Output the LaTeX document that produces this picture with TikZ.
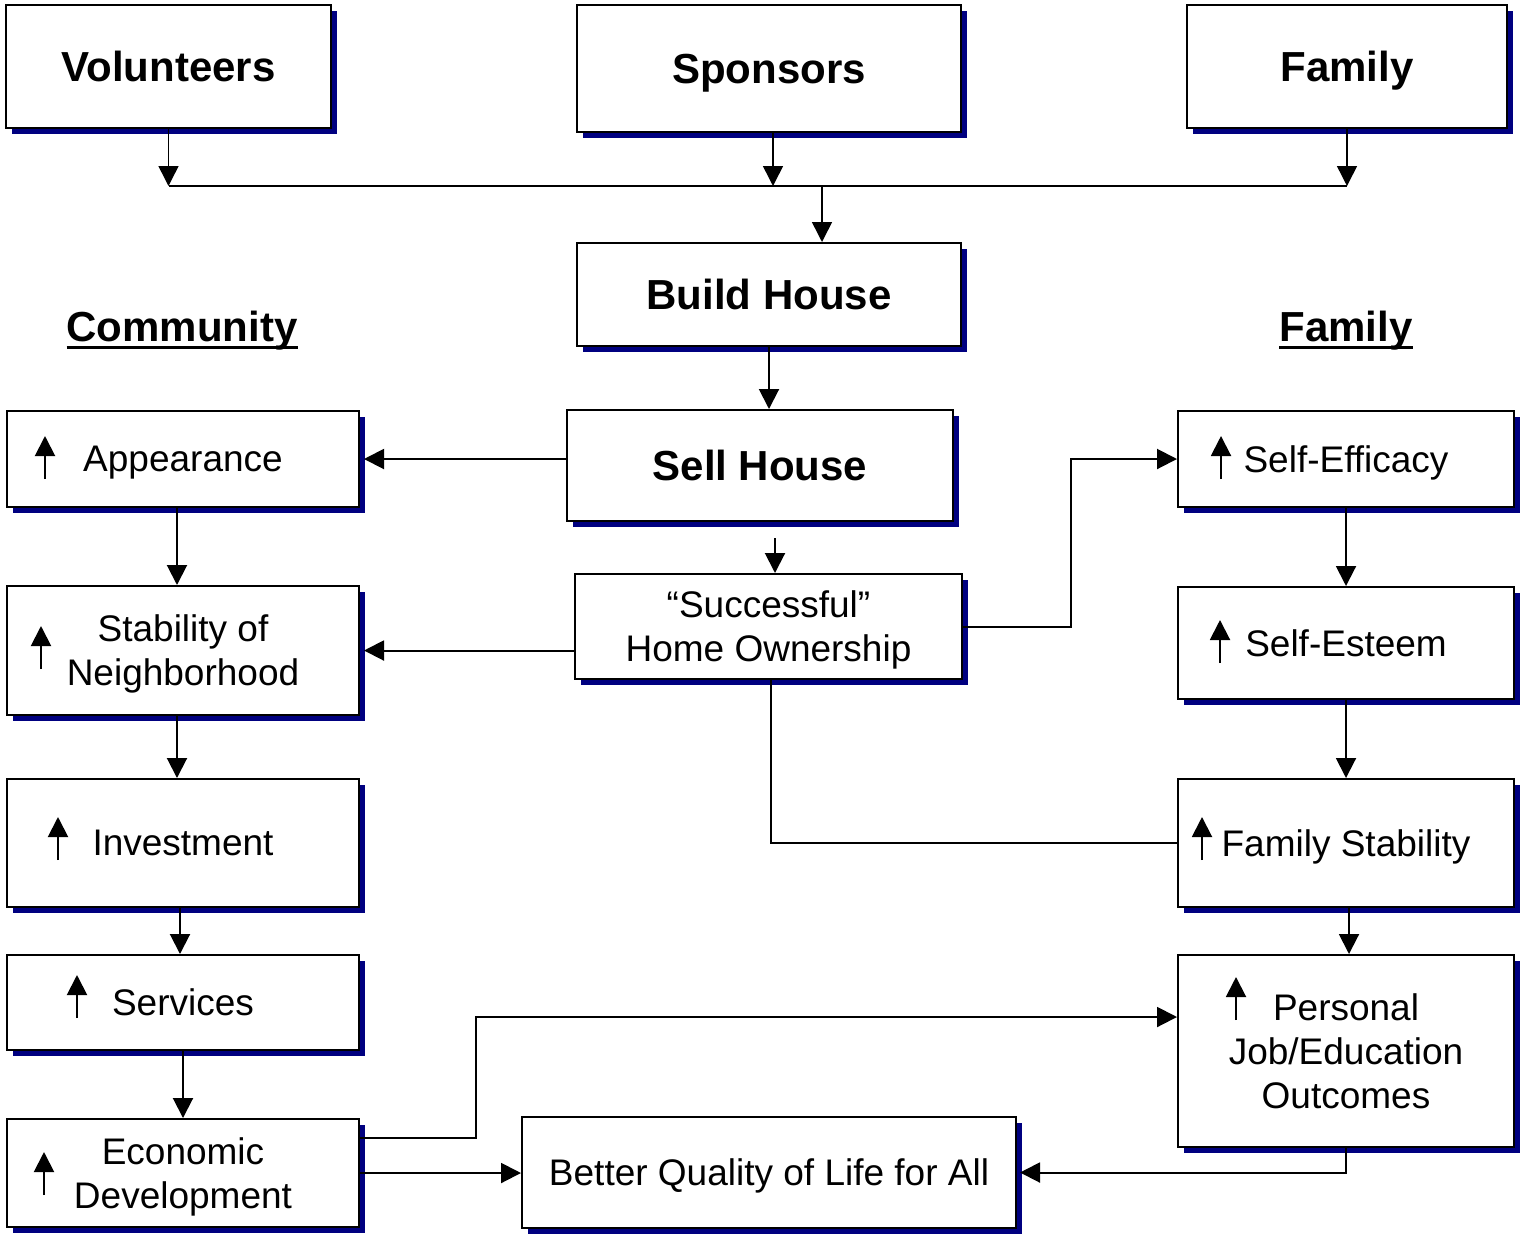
\documentclass[tikz,border=0pt]{standalone}
\usepackage{fontspec}
\setmainfont{Liberation Sans}
\usepackage{tikz}
\usetikzlibrary{arrows.meta,shadows}

\definecolor{shadownavy}{RGB}{0,0,128}
\newcommand\ulined[1]{\setbox0\hbox{#1}\rlap{\rule[-8pt]{\wd0}{3pt}}\box0}

\tikzset{
	box/.style={draw=black,line width=2pt,fill=white,inner sep=0pt,align=center,text depth=0pt,
		font=\fontsize{37}{44}\selectfont,
		drop shadow={shadow xshift=6pt,shadow yshift=-6pt,fill=shadownavy,opacity=1}},
	bigbox/.style={box,font=\fontsize{42}{48}\selectfont\bfseries},
	dims/.style 2 args={minimum width=#1pt,minimum height=#2pt},
	conn/.style={-{Triangle[width=20pt,length=20pt]},line width=2pt},
	thinconn/.style={conn,line width=1.5pt},
	upmark/.style={-{Triangle[width=20pt,length=20pt]},line width=2pt}
}

\begin{document}
\begin{tikzpicture}[x=1pt,y=-1pt]
		\useasboundingbox (0,0) rectangle (1520,1235);
		% top row
		\node[bigbox,dims={325}{123}] (vol)    at (168.5,66.5) {Volunteers};
		\node[bigbox,dims={384}{127}] (spon)   at (769,68.5)   {Sponsors};
		\node[bigbox,dims={320}{123}] (famtop) at (1347,66.5)  {Family};
		% centre
		\node[bigbox,dims={384}{103}] (build)  at (769,294.5)  {Build House};
		\node[bigbox,dims={386}{111}] (sell)   at (760,465.5)  {Sell House};
		\node[box,dims={387}{105}]    (succ)   at (768.5,626.5) {“Successful”\\Home Ownership};
		\node[box,dims={494}{111}]    (better) at (769,1172.5) {Better Quality of Life for All};
		% headings
		\node[font=\fontsize{42}{48}\selectfont\bfseries,anchor=base] (comm)    at (182,341)  {\ulined{Community}};
		\node[font=\fontsize{42}{48}\selectfont\bfseries,anchor=base] (famhead) at (1346,341) {\ulined{Family}};
		% community column
		\node[box,dims={352}{96}]  (app)  at (183,459)    {Appearance};
		\node[box,dims={352}{129}] (stab) at (183,650.5)  {Stability of\\Neighborhood};
		\node[box,dims={352}{128}] (inv)  at (183,843)    {Investment};
		\node[box,dims={352}{95}]  (serv) at (183,1002.5) {Services};
		\node[box,dims={352}{108}] (econ) at (183,1173)   {Economic\\Development};
		% family column
		\node[box,dims={336}{96}]  (eff)   at (1346,459)  {Self-Efficacy};
		\node[box,dims={336}{112}] (est)   at (1346,643)  {Self-Esteem};
		\node[box,dims={336}{128}] (fstab) at (1346,843)  {Family Stability};
		\node[box,dims={336}{192}] (pers)  at (1346,1051) {Personal\\Job/Education\\Outcomes};

		% up marks
		\foreach \ux/\uy in {45/479,41/669,58/860,77/1018,44/1195,1221/479,1220/663,1202/860,1236/1020}
			\draw[upmark] (\ux,\uy) -- ++(0,-43);

		% inputs
		\coordinate (bus) at (0,186);
		\coordinate (bj)  at (822,186);
		\draw[thinconn] (vol.south) -- (vol.south |- bus);
		\draw[thinconn] ([xshift=4pt]spon.south) -- ([xshift=4pt]spon.south |- bus);
		\draw[thinconn] (famtop.south) -- (famtop.south |- bus);
		\draw[line width=1.5pt] (vol.south |- bus) -- (famtop.south |- bus);
		\draw[thinconn] (bj) -- (bj |- build.north);
		\draw[conn] (build.south) -- (build.south |- sell.north);
		\coordinate (sj) at (775,538);
		\draw[conn] (sj) -- (sj |- succ.north);

		% outcomes
		\draw[conn] (sell.west |- app.east) -- ([xshift=4pt]app.east);
		\draw[conn] (succ.west |- stab.east) -- ([xshift=4pt]stab.east);
		\draw[conn] (succ.east) -- ++(108,0) |- (eff.west);
		\draw[line width=2pt] ([xshift=2.5pt]succ.south) |- (fstab.west);

		\draw[conn] ([xshift=-6pt]app.south) -- ([xshift=-6pt]stab.north);
		\draw[conn] ([xshift=-6pt]stab.south) -- ([xshift=-6pt]inv.north);
		\draw[conn] ([xshift=-3pt]inv.south) -- ([xshift=-3pt]serv.north);
		\draw[conn] (serv.south) -- (econ.north);

		\draw[conn] (eff.south) -- (est.north);
		\draw[conn] (est.south) -- (fstab.north);
		\draw[conn] ([xshift=3pt]fstab.south) -- ([xshift=3pt]pers.north);

		\draw[conn] ([yshift=35pt]econ.east) -- ++(116,0) |- ([yshift=34pt]pers.west);
		\draw[conn] (econ.east) -- (econ.east -| better.west);
		\draw[conn] (pers.south) |- ([xshift=3pt]better.east);
	\end{tikzpicture}
\end{document}
